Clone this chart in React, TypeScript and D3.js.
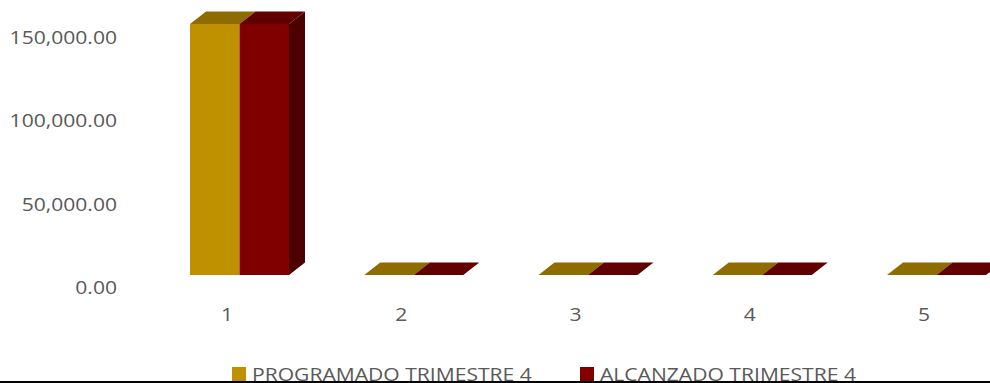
import React from "react";
import * as d3 from "d3";

const categories = ["1", "2", "3", "4", "5"];
const programado = [150600, 0, 0, 0, 0];
const alcanzado = [150600, 0, 0, 0, 0];
const seriesNames = ["PROGRAMADO TRIMESTRE 4", "ALCANZADO TRIMESTRE 4"];
const yTicks = [0, 50000, 100000, 150000];

const W = 990;
const H = 383;
const FONT = "'Open Sans', sans-serif";
const TXT = "#595959";
const SX = 1.11;

const colors = [
  { front: "#BF9000", top: "#8F6C00", side: "#6F5400" },
  { front: "#800000", top: "#600000", side: "#4D0000" },
];

export default function App() {
  const y = d3.scaleLinear().domain([0, 150000]).range([275, 25]);
  const x = d3
    .scaleBand<string>()
    .domain(categories)
    .range([139.875, 139.875 + 5 * 174.25])
    .padding(0);
  const dx = 16;
  const dy = -12.5;
  const barW = 49.5;
  const series = [programado, alcanzado];
  const fmt = d3.format(",.2f");

  const bars: React.ReactNode[] = [];
  categories.forEach((c, i) => {
    const center = (x(c) as number) + x.bandwidth() / 2;
    const left0 = center - 37;
    series.forEach((s, si) => {
      const l = left0 + si * barW;
      const r = l + barW;
      const t = y(s[i]);
      const b = y(0);
      const col = colors[si];
      const topPts = [
        [l, t],
        [l + dx, t + dy],
        [r + dx, t + dy],
        [r, t],
      ];
      const sidePts = [
        [r, t],
        [r + dx, t + dy],
        [r + dx, b + dy],
        [r, b],
      ];
      bars.push(
        <g key={`${c}-${si}`}>
          <polygon points={topPts.map((p) => p.join(",")).join(" ")} fill={col.top} />
          {si === series.length - 1 && b - t > 0 && (
            <polygon points={sidePts.map((p) => p.join(",")).join(" ")} fill={col.side} />
          )}
          {b - t > 0 && <rect x={l} y={t} width={barW} height={b - t} fill={col.front} />}
        </g>
      );
    });
  });

  return (
    <svg
      width={W}
      height={H}
      style={{ position: "absolute", left: 0, top: 0, display: "block", background: "#fff" }}
    >
      <rect x={0} y={0} width={W} height={H} fill="#fff" />
      {yTicks.map((v) => (
        <text
          key={v}
          transform={`translate(117,${y(v) + 12 + 7}) scale(${SX},1)`}
          textAnchor="end"
          fontFamily={FONT}
          fontSize={19}
          fill={TXT}
        >
          {fmt(v)}
        </text>
      ))}
      {bars}
      {categories.map((c) => (
        <text
          key={c}
          transform={`translate(${(x(c) as number) + x.bandwidth() / 2},321) scale(${SX},1)`}
          textAnchor="middle"
          fontFamily={FONT}
          fontSize={19}
          fill={TXT}
        >
          {c}
        </text>
      ))}
      {seriesNames.map((n, i) => {
        const lx = [232, 580][i];
        return (
          <g key={n}>
            <rect x={lx} y={367} width={14} height={14} fill={colors[i].front} />
            <text
              transform={`translate(${lx + 20},381) scale(${SX},1)`}
              fontFamily={FONT}
              fontSize={19}
              fill={TXT}
            >
              {n}
            </text>
          </g>
        );
      })}
      <rect x={0} y={381} width={W} height={2} fill="#000" />
    </svg>
  );
}
